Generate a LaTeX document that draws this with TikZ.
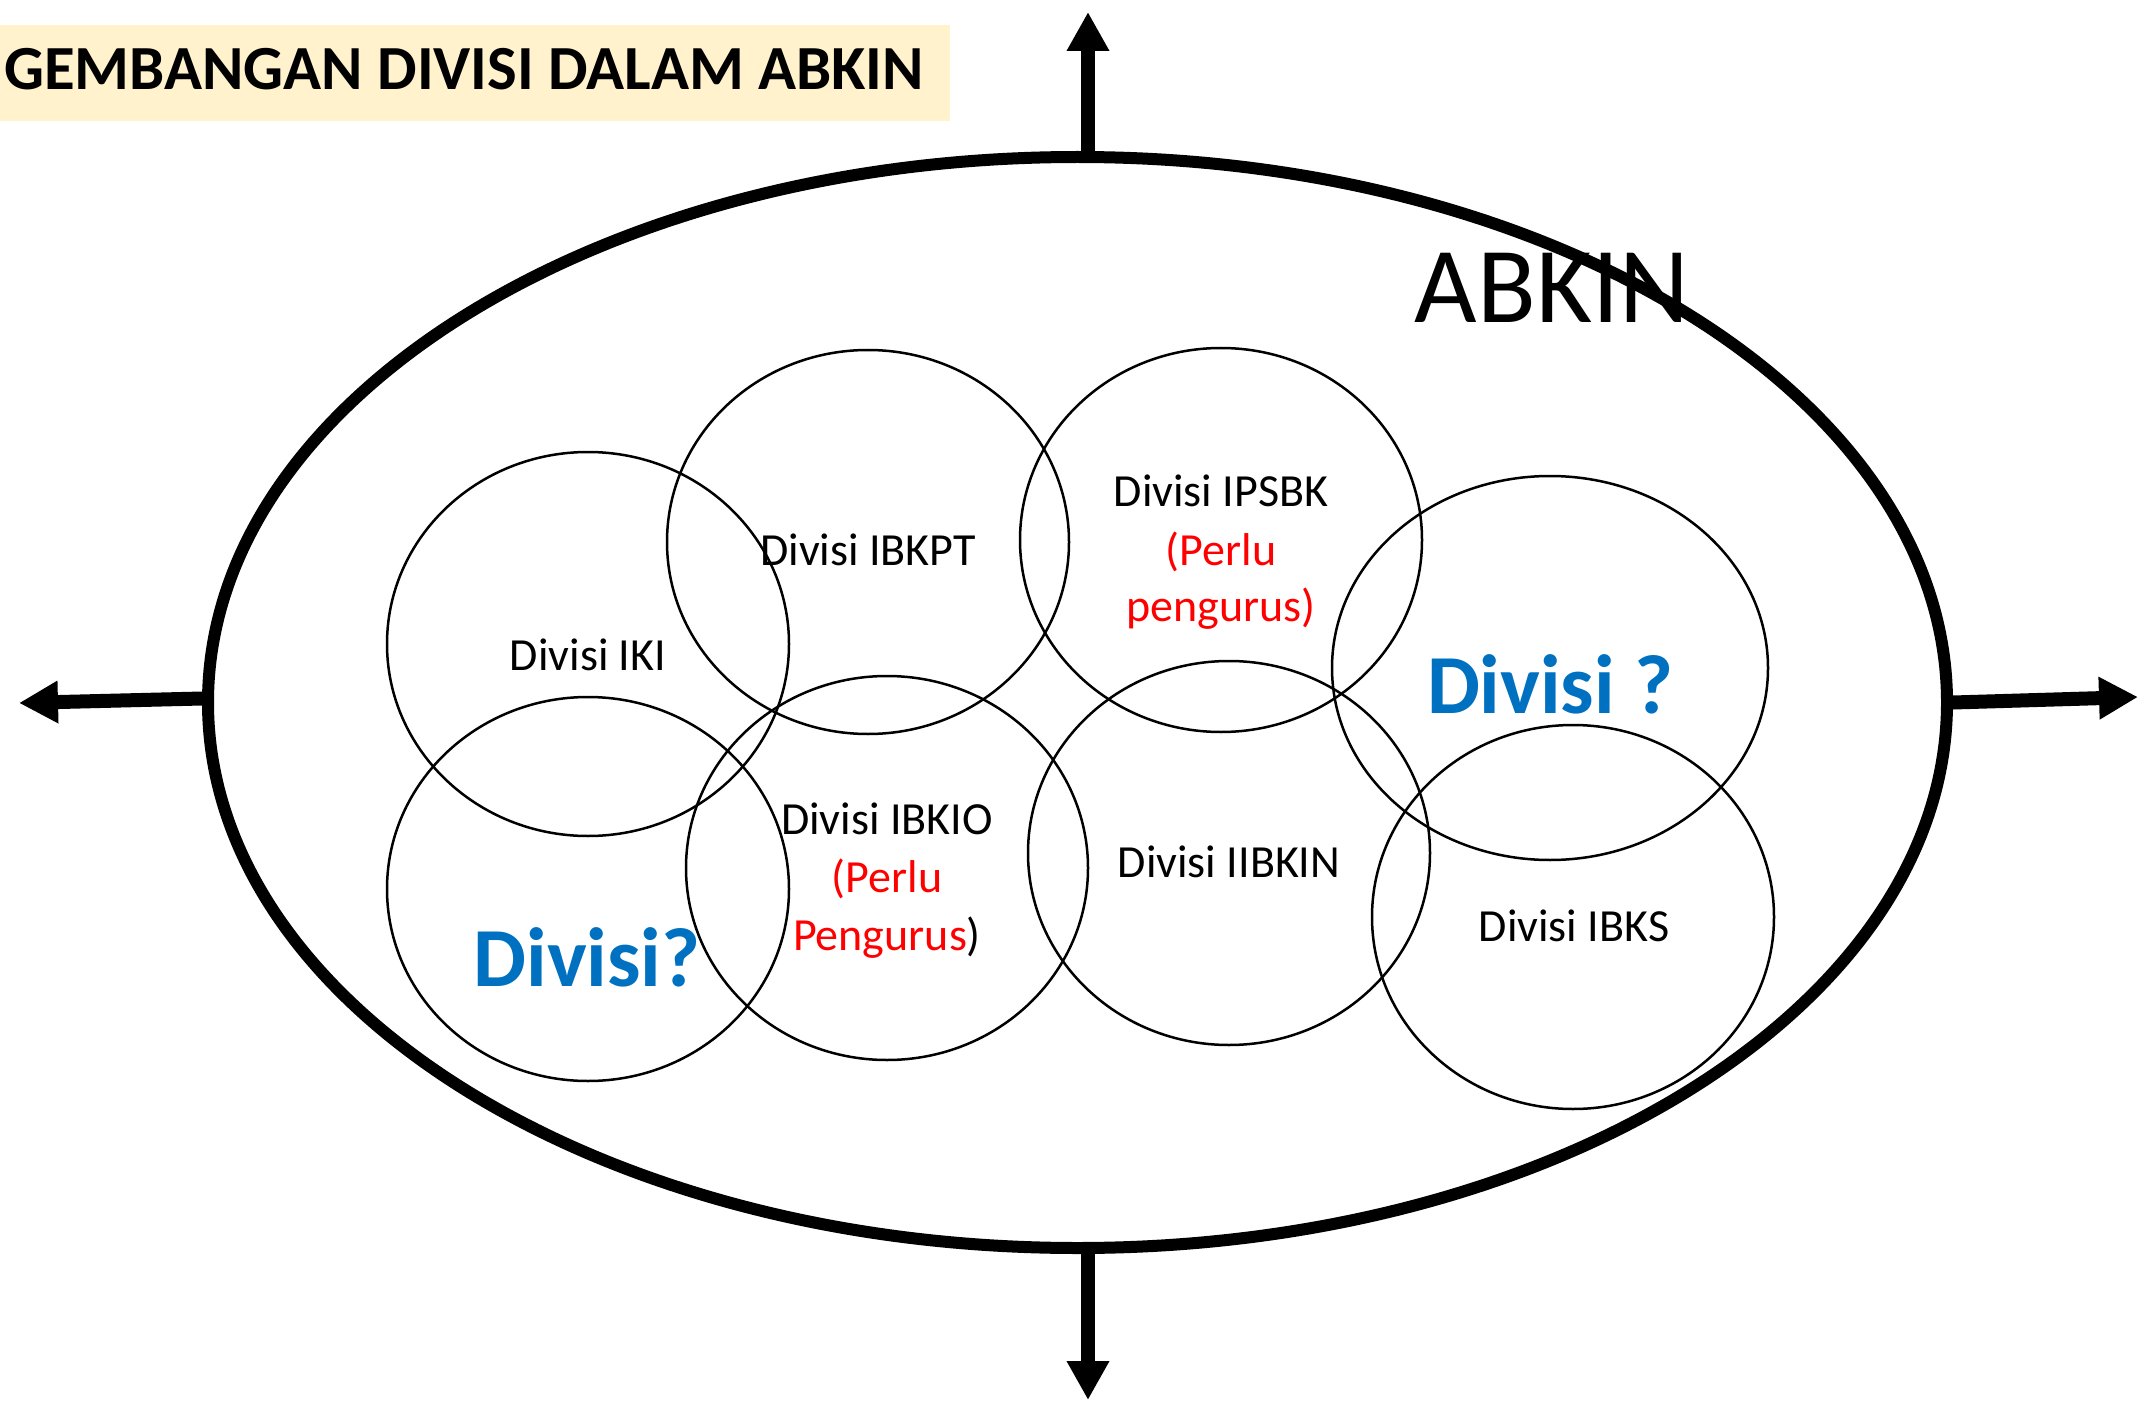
\documentclass[tikz,border=0pt]{standalone}
\usepackage{fontspec}
\setmainfont{Carlito}
\usetikzlibrary{shapes.geometric,arrows.meta}
\definecolor{titlefill}{HTML}{FFF2CC}
\definecolor{divblue}{HTML}{0070C0}
\definecolor{divred}{HTML}{FF0000}
\begin{document}
\begin{tikzpicture}[x=1pt,y=-1pt,
  div/.style={draw=black,line width=2.5pt,ellipse,inner sep=0pt,minimum width=402pt,minimum height=384pt},
  lbl/.style={anchor=base,inner sep=0pt,font=\fontsize{46}{56}\selectfont},
  qlbl/.style={anchor=base,inner sep=0pt,text=divblue,font=\fontsize{84}{100}\selectfont\bfseries},
  bigarrow/.style={line width=14pt,-{Triangle[width=40pt,length=39pt]}}]
\useasboundingbox (0,0) rectangle (2139,1404);
% title
\fill[titlefill] (0,25) rectangle (950,121);
\node[anchor=base east,inner sep=0pt,font=\fontsize{62.8}{70}\selectfont\bfseries] (title) at (924,90) {GEMBANGAN DIVISI DALAM ABKIN};
% big ellipse
\node[draw=black,line width=12pt,ellipse,inner sep=0pt,minimum width=1739pt,minimum height=1091pt] (abkin) at (1077.5,702.5) {};
\node[anchor=base,inner sep=0pt,font=\fontsize{108}{120}\selectfont] (abkinlbl) at (1552,323) {ABKIN};
% arrows
\coordinate (tipU) at (1088,12);
\coordinate (tipD) at (1088,1400);
\coordinate (tipL) at (19,703);
\coordinate (tipR) at (2138,697);
\draw[bigarrow] (abkin.north -| tipU) -- (tipU);
\draw[bigarrow] (abkin.south -| tipD) -- (tipD);
\draw[bigarrow] ([yshift=4pt]abkin.west) -- (tipL);
\draw[bigarrow] (abkin.east) -- (tipR);
% division circles
\node[div] (iki) at (588,644) {};
\node[div] (ibkpt) at (868,542) {};
\node[div] (ipsbk) at (1221,540) {};
\node[div,minimum width=436pt] (dq1) at (1550,668) {};
\node[div] (dq2) at (588,889) {};
\node[div] (ibkio) at (887,868) {};
\node[div] (iibkin) at (1229,853) {};
\node[div] (ibks) at (1573,917) {};
% labels
\node[lbl] (tiki) at (588,670) {Divisi IKI};
\node[lbl] (tibkpt) at (868,565) {Divisi IBKPT};
\node[lbl] (tipsbk1) at (1221,506) {Divisi IPSBK};
\node[lbl,text=divred] (tipsbk2) at (1221,565) {(Perlu};
\node[lbl,text=divred] (tipsbk3) at (1221,621) {pengurus)};
\node[qlbl] (tdq1) at (1550,713) {Divisi ?};
\node[qlbl] (tdq2) at (587,986) {Divisi?};
\node[lbl] (tibkio1) at (887,834) {Divisi IBKIO};
\node[lbl,text=divred] (tibkio2) at (887,892) {(Perlu};
\node[lbl] (tibkio3) at (887,950) {\textcolor{divred}{Pengurus})};
\node[lbl] (tiibkin) at (1229,877) {Divisi IIBKIN};
\node[lbl] (tibks) at (1574,941) {Divisi IBKS};
\end{tikzpicture}
\end{document}
